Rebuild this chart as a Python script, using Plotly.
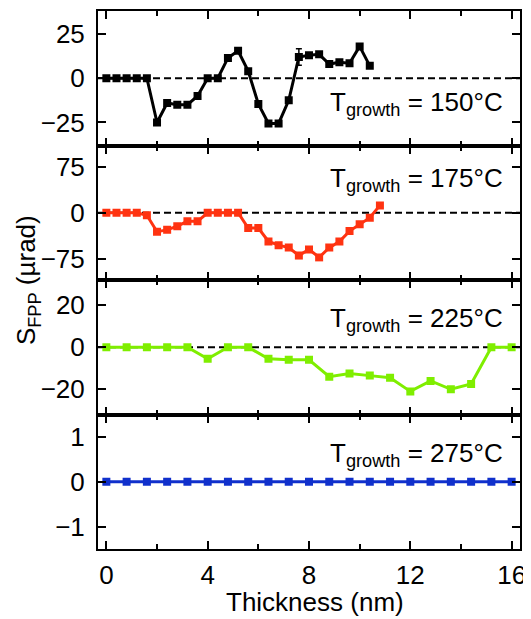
import plotly.graph_objects as go

# ---- data ----
x150 = [0, 0.4, 0.8, 1.2, 1.6, 2.0, 2.4, 2.8, 3.2, 3.6, 4.0, 4.4, 4.8, 5.2, 5.6,
        6.0, 6.4, 6.8, 7.2, 7.6, 8.0, 8.4, 8.8, 9.2, 9.6, 10.0, 10.4]
s150 = [0, 0, 0, 0, 0, -25, -14, -15, -15, -10, 0, 0, 11.5, 15.5, 4,
        -14.5, -25.5, -25.5, -12.5, 12, 13, 13.5, 8, 9, 8.5, 18, 7]
e150 = [0, 0, 0, 0, 0, 0, 0, 0, 0, 0, 0, 0, 0, 0, 0,
        0, 0, 0, 0, 4.7, 0, 0, 0, 0, 0, 0, 0]

x175 = [0, 0.4, 0.8, 1.2, 1.6, 2.0, 2.4, 2.8, 3.2, 3.6, 4.0, 4.4, 4.8, 5.2,
        5.6, 6.0, 6.4, 6.8, 7.2, 7.6, 8.0, 8.4, 8.8, 9.2, 9.6, 10.0, 10.4, 10.8]
s175 = [0, 0, 0, 0, -4, -31, -28, -22, -14, -14, 0, 0, 0, 0,
        -25, -25, -47, -53, -57, -70, -60, -73, -57, -47, -30, -19, -8, 12]

x225 = [0, 0.8, 1.6, 2.4, 3.2, 4.0, 4.8, 5.6, 6.4, 7.2, 8.0, 8.8, 9.6, 10.4,
        11.2, 12.0, 12.8, 13.6, 14.4, 15.2, 16.0]
s225 = [0, 0, 0, 0, 0, -5.5, 0, 0, -5.5, -6, -6, -14, -12.5, -13.5,
        -14.5, -21, -16, -20, -17.5, 0, 0]

x275 = [0, 0.8, 1.6, 2.4, 3.2, 4.0, 4.8, 5.6, 6.4, 7.2, 8.0, 8.8, 9.6, 10.4,
        11.2, 12.0, 12.8, 13.6, 14.4, 15.2, 16.0]
s275 = [0, 0, 0, 0, 0, 0, 0, 0, 0, 0, 0, 0, 0, 0,
        0, 0, 0, 0, 0, 0, 0]

temps = ["150", "175", "225", "275"]
x_ticks = [0, 4, 8, 12, 16]
y_ticks = [[-25, 0, 25], [-75, 0, 75], [-20, 0, 20], [-1, 0, 1]]
y_ranges = [[-38, 38], [-110, 110], [-32, 32], [-1.5, 1.5]]

# ---- style ----
FONT = "Liberation Sans, Arial, sans-serif"
FS = 26
colors = ["#000000", "#FF3311", "#7FEE00", "#1030CC"]
domains = [[0.75, 1.0], [0.5, 0.75], [0.25, 0.5], [0.0, 0.25]]
label_y = [0.31, 0.745, 0.705, 0.705]
xs = [x150, x175, x225, x275]
ys = [s150, s175, s225, s275]

fig = go.Figure()
shapes = []
annotations = []

for i in range(4):
    n = "" if i == 0 else str(i + 1)
    xa, ya = "x" + n, "y" + n
    xaxis_key, yaxis_key = "xaxis" + n, "yaxis" + n
    # dashed zero reference
    if i < 3:
        shapes.append(dict(type="line", xref=xa + " domain", yref=ya,
                           x0=0, x1=1, y0=0, y1=0, layer="below",
                           line=dict(color="black", width=2, dash="7px,4px")))
    kw = {}
    if i == 0:
        kw["error_y"] = dict(type="data", array=e150, visible=True,
                             color="black", thickness=1.5, width=3)
    fig.add_trace(go.Scatter(
        x=xs[i], y=ys[i], xaxis=xa, yaxis=ya, mode="lines+markers",
        line=dict(color=colors[i], width=3),
        marker=dict(symbol="square", size=8, color=colors[i]),
        showlegend=False, **kw))
    fig.layout[xaxis_key] = dict(
        domain=[0, 1], anchor=ya, range=[-0.33, 16.33],
        tickvals=x_ticks, ticks="inside", ticklen=8, tickwidth=2,
        tickcolor="black", showticklabels=(i == 3),
        minor=dict(dtick=2, tick0=0, ticks="inside", ticklen=5,
                   tickwidth=2, tickcolor="black"),
        showline=True, linewidth=2, linecolor="black", mirror="ticks",
        showgrid=False, zeroline=False, automargin=False,
        tickfont=dict(family=FONT, size=FS, color="black"),
        ticklabelstandoff=2, ticklabeloverflow="allow",
        matches=None if i == 0 else "x")
    fig.layout[yaxis_key] = dict(
        domain=domains[i], anchor=xa, range=y_ranges[i],
        tickvals=y_ticks[i], ticks="inside", ticklen=8, tickwidth=2,
        tickcolor="black", showline=True, linewidth=2, linecolor="black",
        mirror="ticks", showgrid=False, zeroline=False, automargin=False,
        tickfont=dict(family=FONT, size=FS, color="black"),
        ticklabelstandoff=6)
    annotations.append(dict(
        xref=xa + " domain", yref=ya + " domain", x=0.965, y=label_y[i],
        xanchor="right", yanchor="middle", showarrow=False,
        text="T<sub>growth</sub> = " + temps[i] + "°C",
        font=dict(family=FONT, size=FS, color="black")))

# axis titles
annotations.append(dict(
    xref="paper", yref="paper", x=0.514, y=-0.099, xanchor="center",
    yanchor="middle", showarrow=False, text="Thickness (nm)",
    font=dict(family=FONT, size=FS, color="black")))
annotations.append(dict(
    xref="paper", yref="paper", x=-0.168, y=0.5, xanchor="center",
    yanchor="middle", textangle=-90, showarrow=False,
    text="S<sub>FPP</sub> (µrad)",
    font=dict(family=FONT, size=FS, color="black")))

# the page body adds an 8px margin around the figure
fig.update_layout(
    width=523, height=611,
    margin=dict(l=90, r=11, t=3, b=70),
    paper_bgcolor="white", plot_bgcolor="white",
    shapes=shapes, annotations=annotations,
    font=dict(family=FONT, color="black"))

fig.write_html("out.html")
